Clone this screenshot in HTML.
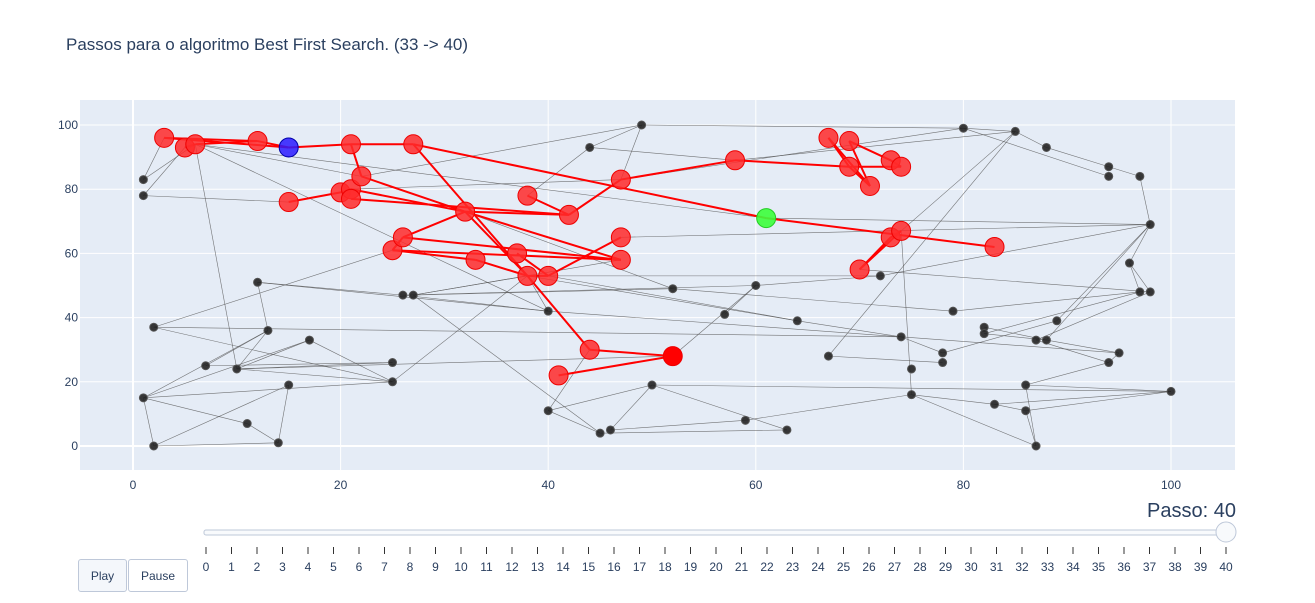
<!DOCTYPE html>
<html><head><meta charset="utf-8">
<style>
body{margin:0;background:#fff;font-family:"Liberation Sans",Arial,sans-serif;}
svg text{font-family:"Liberation Sans",Arial,sans-serif;}
.btn{position:absolute;top:559px;height:33px;border:1px solid #bec8d9;border-radius:3px;background:#f4f7fb;font-size:12px;color:#2a3f5f;display:flex;align-items:center;justify-content:center;box-sizing:border-box;}
</style></head>
<body>
<div style="position:relative;width:1315px;height:603px;overflow:hidden">
<svg id="c" width="1315" height="603"></svg>
<div class="btn" style="left:78px;width:49px">Play</div>
<div class="btn" style="left:128px;width:60px;background:#fff">Pause</div>
</div>
<script>
const xTicks=[0,20,40,60,80,100];
const yTicks=[0,20,40,60,80,100];
const grayNodes=[[1,83],[1,78],[49,100],[44,93],[80,99],[85,98],[88,93],[94,87],[94,84],[97,84],[98,69],[96,57],[97,48],[98,48],[72,53],[60,50],[52,49],[57,41],[64,39],[79,42],[89,39],[82,37],[82,35],[87,33],[88,33],[74,34],[78,29],[78,26],[67,28],[75,24],[95,29],[94,26],[86,19],[100,17],[75,16],[83,13],[86,11],[87,0],[50,19],[59,8],[63,5],[46,5],[45,4],[40,11],[40,42],[26,47],[27,47],[12,51],[2,37],[13,36],[17,33],[7,25],[10,24],[25,26],[25,20],[15,19],[1,15],[11,7],[2,0],[14,1]];
const redNodes=[[3,96],[5,93],[6,94],[12,95],[21,94],[27,94],[15,76],[20,79],[21,80],[21,77],[22,84],[25,61],[26,65],[32,73],[33,58],[37,60],[38,78],[38,53],[40,53],[42,72],[47,65],[47,58],[47,83],[58,89],[67,96],[69,95],[69,87],[71,81],[73,89],[74,87],[73,65],[74,67],[70,55],[83,62],[44,30],[41,22]];
const currentNode=[52,28];
const startNode=[15,93];
const goalNode=[61,71];
const grayEdges=[[1,83,3,96],[1,83,6,94],[1,78,5,93],[1,78,15,76],[6,94,10,24],[6,94,22,84],[6,94,40,42],[49,100,44,93],[49,100,80,99],[49,100,47,83],[49,100,22,84],[44,93,58,89],[44,93,38,78],[80,99,85,98],[85,98,88,93],[88,93,94,87],[94,87,97,84],[80,99,94,84],[85,98,74,67],[85,98,67,28],[97,84,98,69],[98,69,96,57],[96,57,97,48],[98,69,72,53],[98,69,88,33],[98,69,89,39],[96,57,98,48],[97,48,82,35],[98,48,87,33],[97,48,79,42],[72,53,60,50],[72,53,40,53],[60,50,57,41],[60,50,26,47],[52,49,27,47],[52,49,79,42],[64,39,74,34],[64,39,40,53],[74,34,78,29],[74,34,95,29],[82,37,88,33],[82,35,88,33],[88,33,95,29],[87,33,94,26],[78,26,67,28],[78,29,89,39],[74,67,75,16],[95,29,94,26],[86,19,94,26],[86,19,87,0],[86,19,100,17],[83,13,100,17],[75,16,83,13],[75,16,87,0],[86,11,100,17],[83,13,86,11],[86,11,87,0],[75,16,59,8],[59,8,46,5],[63,5,45,4],[63,5,50,19],[50,19,46,5],[50,19,100,17],[50,19,40,11],[40,11,44,30],[45,4,40,11],[45,4,27,47],[10,24,52,28],[52,28,60,50],[40,42,26,47],[40,42,38,53],[40,42,74,34],[12,51,40,42],[12,51,26,47],[12,51,13,36],[2,37,74,34],[2,37,25,20],[2,37,25,61],[13,36,10,24],[13,36,7,25],[17,33,25,20],[17,33,10,24],[10,24,25,26],[10,24,25,20],[7,25,25,26],[1,15,13,36],[1,15,17,33],[1,15,11,7],[1,15,2,0],[2,0,14,1],[2,0,15,19],[15,19,14,1],[11,7,14,1],[1,15,25,20],[25,20,38,53],[27,47,38,53],[27,47,47,58],[38,53,64,39],[47,65,98,69],[58,89,85,98],[47,83,80,99],[61,71,98,69],[70,55,98,48],[32,73,52,49],[21,80,47,83],[6,94,61,71]];
const redEdges=[[3,96,15,93],[5,93,6,94],[6,94,12,95],[12,95,15,93],[15,93,21,94],[21,94,27,94],[3,96,12,95],[27,94,61,71],[61,71,83,62],[27,94,38,53],[38,53,44,30],[44,30,52,28],[41,22,52,28],[21,94,22,84],[22,84,32,73],[32,73,38,53],[15,76,20,79],[20,79,21,80],[21,77,42,72],[21,80,32,73],[32,73,42,72],[38,78,42,72],[42,72,47,83],[47,83,58,89],[58,89,69,87],[69,87,74,87],[67,96,69,87],[69,87,71,81],[67,96,71,81],[69,95,73,89],[73,89,74,87],[69,95,71,81],[73,65,70,55],[74,67,70,55],[73,65,74,67],[26,65,32,73],[26,65,47,58],[25,61,33,58],[33,58,38,53],[25,61,26,65],[37,60,40,53],[38,53,40,53],[40,53,47,65],[25,61,47,58],[47,58,32,73]];
const steps=[];for(let i=0;i<=40;i++)steps.push(i);

const NS='http://www.w3.org/2000/svg';
const svg=document.getElementById('c');
const L=80,R=1235,T=100,B=470;
const sx=v=>133+v*10.38;
const sy=v=>446-v*3.21;
function el(t,a,p){const e=document.createElementNS(NS,t);for(const k in a)e.setAttribute(k,a[k]);(p||svg).appendChild(e);return e;}
let t=el('text',{x:66,y:50,'font-size':17,fill:'#2a3f5f'});t.textContent='Passos para o algoritmo Best First Search. (33 -> 40)';


let bg=el('rect',{x:L,y:T,width:R-L,height:B-T,fill:'#e5ecf6'});


xTicks.forEach(v=>{let g=el('line',{x1:sx(v),x2:sx(v),y1:T,y2:B,stroke:'#fff','stroke-width':v===0?2:1});


let l=el('text',{x:sx(v),y:B+19,'font-size':12,fill:'#2a3f5f','text-anchor':'middle'});l.textContent=v;

});
yTicks.forEach(v=>{let g=el('line',{x1:L,x2:R,y1:sy(v),y2:sy(v),stroke:'#fff','stroke-width':v===0?2:1});


let l=el('text',{x:L-2,y:sy(v)+4,'font-size':12,fill:'#2a3f5f','text-anchor':'end'});l.textContent=v;

});
grayEdges.forEach(e=>{let ln=el('line',{x1:sx(e[0]),y1:sy(e[1]),x2:sx(e[2]),y2:sy(e[3]),stroke:'#555','stroke-width':0.6,'stroke-opacity':0.8});

});
redEdges.forEach(e=>{let ln=el('line',{x1:sx(e[0]),y1:sy(e[1]),x2:sx(e[2]),y2:sy(e[3]),stroke:'#f00','stroke-width':2});

});
grayNodes.forEach(n=>{let c=el('circle',{cx:sx(n[0]),cy:sy(n[1]),r:4,fill:'#222',stroke:'#555','stroke-width':1,'fill-opacity':0.9});

});
redNodes.forEach(n=>{let c=el('circle',{cx:sx(n[0]),cy:sy(n[1]),r:9.5,fill:'#ff2a2a','fill-opacity':0.85,stroke:'#e00','stroke-width':1});

});
let cn=el('circle',{cx:sx(currentNode[0]),cy:sy(currentNode[1]),r:9.5,fill:'#f00',stroke:'#e00'});


let s=el('circle',{cx:sx(startNode[0]),cy:sy(startNode[1]),r:9.5,fill:'#2a1aff','fill-opacity':0.85,stroke:'#00a'});


let g=el('circle',{cx:sx(goalNode[0]),cy:sy(goalNode[1]),r:9.5,fill:'#3bff3b','fill-opacity':0.9,stroke:'#2c2'});


// slider
const s0=206,s1=1226;const st=v=>s0+(s1-s0)*v/40;
let pl=el('text',{x:1236,y:517,'font-size':20,fill:'#2a3f5f','text-anchor':'end'});pl.textContent='Passo: 40';


let tr=el('rect',{x:204,y:530,width:1024,height:5,rx:2,fill:'#f8fafc',stroke:'#bec8d9'});


steps.forEach(v=>{let tk=el('line',{x1:st(v),x2:st(v),y1:547,y2:554,stroke:'#333','stroke-width':1});


let l=el('text',{x:st(v),y:571,'font-size':12,fill:'#2a3f5f','text-anchor':'middle'});l.textContent=v;

});
let kn=el('circle',{cx:st(40),cy:532,r:10,fill:'#f8fafc',stroke:'#bec8d9'});


</script>
</body></html>
